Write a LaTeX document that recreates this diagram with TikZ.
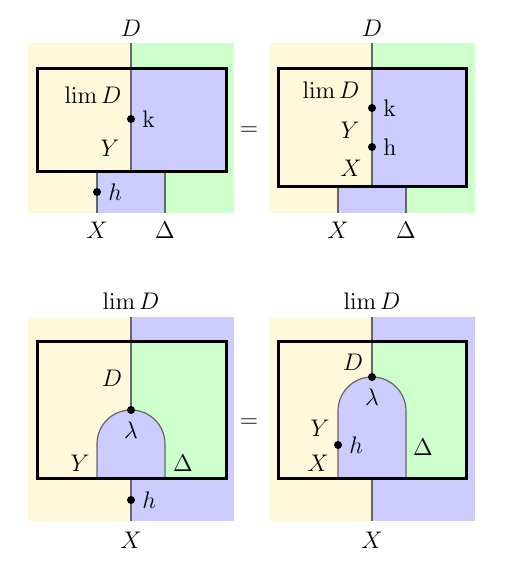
\documentclass[tikz,border=0pt]{standalone}
\usepackage{amsmath}
\usetikzlibrary{positioning}
\definecolor{paleyel}{RGB}{255,249,219}
\definecolor{palegrn}{RGB}{204,255,204}
\definecolor{paleblu}{RGB}{204,204,255}
\tikzset{wire/.style = {draw=black!60, line width=0.6pt},
         frame/.style = {draw=black, line width=1.5pt},
         bead/.style = {circle, fill=black, inner sep=0pt, minimum size=4pt}}

\begin{document}
\begin{tikzpicture}[x=0.5pt, y=0.5pt, font=\large]
\useasboundingbox (0,0) rectangle (518,577);
% top left
\fill[paleyel] (28,364) rectangle (131,534);
\fill[palegrn] (131,364) rectangle (234,534);
\fill[paleblu] (97,364) rectangle (165,405);
\fill[paleblu] (131,405) rectangle (226,508);
\draw[wire] (131,534) -- (131,405);
\draw[wire] (97,364) -- (97,405) (165,364) -- (165,405);
\draw[frame] (37,405) rectangle (226,508);
\node[bead] (kA) at (131,458) {};
\node[bead] (hA) at (97,385) {};
\node (kAl) [right=0pt of kA] {k};
\node (hAl) [right=0pt of hA] {$h$};
\node (DA) at (131,549) {$D$};
\node (limA) at (93,482) {$\lim D$};
\node (YA) at (110,429) {$Y$};
\node (XA) at (97,347) {$X$};
\node (dA) at (165,347) {$\Delta$};
\node (eqtop) at (249,446) {$=$};
% top right
\fill[paleyel] (269,364) rectangle (372,534);
\fill[palegrn] (372,364) rectangle (475,534);
\fill[paleblu] (338,364) rectangle (406,390);
\fill[paleblu] (372,390) rectangle (466,508);
\draw[wire] (372,534) -- (372,390);
\draw[wire] (338,364) -- (338,390) (406,364) -- (406,390);
\draw[frame] (278,390) rectangle (466,508);
\node[bead] (kB) at (372,469) {};
\node[bead] (hB) at (372,430) {};
\node (kBl) [right=0pt of kB] {k};
\node (hBl) [right=0pt of hB] {h};
\node (DB) at (372,549) {$D$};
\node (limB) at (331,487) {$\lim D$};
\node (YB) at (350,447) {$Y$};
\node (XBi) at (351,409) {$X$};
\node (XB) at (338,347) {$X$};
\node (dB) at (406,347) {$\Delta$};
% bottom left
\fill[paleyel] (28,56) rectangle (131,260);
\fill[paleblu] (131,56) rectangle (234,260);
\fill[palegrn] (131,98) rectangle (226,235);
\draw[wire, fill=paleblu] (97,98) -- (97,133) arc (180:0:34) -- (165,98) -- cycle;
\draw[wire] (131,260) -- (131,167);
\draw[wire] (131,98) -- (131,56);
\draw[frame] (37,98) rectangle (226,235);
\node[bead] (lamC) at (131,167) {};
\node[bead] (hC) at (131,77) {};
\node (lamCl) [below=0pt of lamC] {$\lambda$};
\node (hCl) [right=0pt of hC] {$h$};
\node (limC) at (131,276) {$\lim D$};
\node (DC) at (112,199) {$D$};
\node (YC) at (80,114) {$Y$};
\node (dC) at (183,114) {$\Delta$};
\node (XC) at (131,37) {$X$};
\node (eqbot) at (249,154) {$=$};
% bottom right
\fill[paleyel] (269,56) rectangle (372,260);
\fill[paleblu] (372,56) rectangle (475,260);
\fill[palegrn] (372,98) rectangle (466,235);
\draw[wire, fill=paleblu] (338,98) -- (338,166) arc (180:0:34) -- (406,98) -- cycle;
\draw[wire] (372,260) -- (372,200);
\draw[wire] (372,98) -- (372,56);
\draw[frame] (278,98) rectangle (466,235);
\node[bead] (lamD) at (372,200) {};
\node[bead] (hD) at (338,132) {};
\node (lamDl) [below=0pt of lamD] {$\lambda$};
\node (hDl) [right=0pt of hD] {$h$};
\node (limD) at (372,276) {$\lim D$};
\node (DD) at (353,215) {$D$};
\node (YD) at (320,149) {$Y$};
\node (XDi) at (318,114) {$X$};
\node (dD) at (423,130) {$\Delta$};
\node (XD) at (372,37) {$X$};
\end{tikzpicture}
\end{document}
